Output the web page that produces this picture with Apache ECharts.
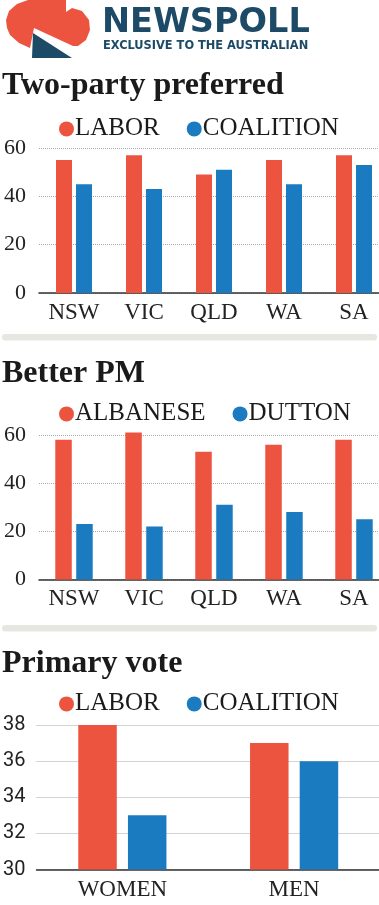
<!DOCTYPE html>
<html><head><meta charset="utf-8">
<script src="https://cdn.jsdelivr.net/npm/echarts@6/dist/echarts.min.js"></script>
<style>html,body{margin:0;padding:0;background:#fff;width:379px;height:905px;overflow:hidden}#c{width:400px;height:905px}</style>
</head><body><div id="c"></div>
<script>
// ---- data ----
const states = ['NSW', 'VIC', 'QLD', 'WA', 'SA'];
const tppLabor = [55, 57, 49, 55, 57];
const tppCoalition = [45, 43, 51, 45, 53];
const pmAlbanese = [58, 61, 53, 56, 58];
const pmDutton = [23, 22, 31, 28, 25];
const genders = ['WOMEN', 'MEN'];
const primaryLabor = [38, 37];
const primaryCoalition = [33, 36];
const titles = ['Two-party preferred', 'Better PM', 'Primary vote'];
const legend1 = ['LABOR', 'COALITION'];
const legend2 = ['ALBANESE', 'DUTTON'];

// ---- styles ----
const RED = '#ec5440', BLUE = '#1a7bc1', NAVY = '#1c4a67';
const SERIF = '"Liberation Serif", serif';

const chart = echarts.init(document.getElementById('c'), null, {renderer: 'canvas'});

function xAxis(gridIndex, data, margin) {
  return {
    type: 'category', gridIndex, data, boundaryGap: true,
    axisTick: {show: false},
    axisLine: {show: true, lineStyle: {color: '#333', width: 1.5}},
    axisLabel: {fontFamily: SERIF, fontSize: 23, color: '#222', margin}
  };
}
function yAxis(gridIndex, min, max, interval, family, size, margin) {
  return {
    type: 'value', gridIndex, min, max, interval,
    axisLine: {show: false}, axisTick: {show: false},
    splitLine: {show: true, lineStyle: {type: 'dotted', color: '#a8a8a8', width: 1}},
    axisLabel: {
      margin, color: '#222', fontFamily: family, fontSize: size,
      formatter: v => '{t|' + v + '}',
      rich: {t: {fontFamily: family, fontSize: size, color: '#222'}}
    }
  };
}
function legend(top, data) {
  return {
    left: 59, top, padding: 0, itemWidth: 15, itemHeight: 15, icon: 'circle',
    itemGap: 27, selectedMode: false, data,
    formatter: n => '{t|' + n + '}',
    textStyle: {
      fontFamily: SERIF, fontSize: 25, color: '#1a1a1a', lineHeight: 25, padding: [0, 0, 0, -4],
      rich: {t: {fontFamily: SERIF, fontSize: 25, color: '#1a1a1a', lineHeight: 25}}
    }
  };
}
function title(text, top) {
  return {
    text, left: 2, top, padding: 0,
    textStyle: {fontFamily: SERIF, fontWeight: 'bold', fontSize: 32, color: '#1a1a1a', lineHeight: 32}
  };
}

const logoRed = [[6,20],[9,11],[17,4],[28,0],[66,0],[66,12],[72,8],[82,11],[89,20],[90,30],[86,40],[78,46],[73,46],[34,28],[30,48],[19,43],[10,35],[7,28]];

const option = {
  animation: false,
  backgroundColor: '#fff',
  title: [title(titles[0], 69.5), title(titles[1], 357.3), title(titles[2], 647.3)],
  legend: [legend(116.4, legend1), legend(401.4, legend2), legend(691.4, legend1)],
  grid: [
    {left: 39, top: 148, width: 350, height: 145},
    {left: 39, top: 435, width: 350, height: 144.5},
    {left: 36, top: 725, width: 344, height: 144.5}
  ],
  xAxis: [xAxis(0, states, 8), xAxis(1, states, 8), xAxis(2, genders, 9)],
  yAxis: [
    yAxis(0, 0, 60, 20, SERIF, 22, 13),
    yAxis(1, 0, 60, 20, SERIF, 22, 13),
    yAxis(2, 30, 38, 2, 'Roboto, sans-serif', 20, 11)
  ],
  series: [
    {type: 'bar', name: 'LABOR', xAxisIndex: 0, yAxisIndex: 0, data: tppLabor, barWidth: 16, barGap: '25%', itemStyle: {color: RED}},
    {type: 'bar', name: 'COALITION', xAxisIndex: 0, yAxisIndex: 0, data: tppCoalition, barWidth: 16, barGap: '25%', itemStyle: {color: BLUE}},
    {type: 'bar', name: 'ALBANESE', xAxisIndex: 1, yAxisIndex: 1, data: pmAlbanese, barWidth: 16.5, barGap: '27%', clip: false, itemStyle: {color: RED}},
    {type: 'bar', name: 'DUTTON', xAxisIndex: 1, yAxisIndex: 1, data: pmDutton, barWidth: 16.5, barGap: '27%', clip: false, itemStyle: {color: BLUE}},
    {type: 'bar', name: 'LABOR', xAxisIndex: 2, yAxisIndex: 2, data: primaryLabor, barWidth: 38.5, barGap: '29%', itemStyle: {color: RED}},
    {type: 'bar', name: 'COALITION', xAxisIndex: 2, yAxisIndex: 2, data: primaryCoalition, barWidth: 38.5, barGap: '29%', itemStyle: {color: BLUE}}
  ],
  graphic: [
    {type: 'polygon', shape: {points: logoRed}, style: {fill: RED}},
    {type: 'polygon', shape: {points: [[33, 33], [32, 58], [72, 58]]}, style: {fill: NAVY}},
    {type: 'text', x: 102, y: 23, style: {text: 'NEWSPOLL', font: 'bold 33.5px "DejaVu Sans", sans-serif', fill: NAVY, verticalAlign: 'middle'}},
    {type: 'text', x: 103, y: 46, style: {text: 'EXCLUSIVE TO THE AUSTRALIAN', font: 'bold 11.4px "DejaVu Sans", sans-serif', fill: NAVY, verticalAlign: 'middle'}},
    {type: 'rect', shape: {x: 2, y: 334, width: 375, height: 6.5, r: 3}, style: {fill: '#e7e7e2'}},
    {type: 'rect', shape: {x: 2, y: 625, width: 375, height: 6.5, r: 3}, style: {fill: '#e7e7e2'}}
  ]
};
chart.setOption(option);
</script></body></html>
